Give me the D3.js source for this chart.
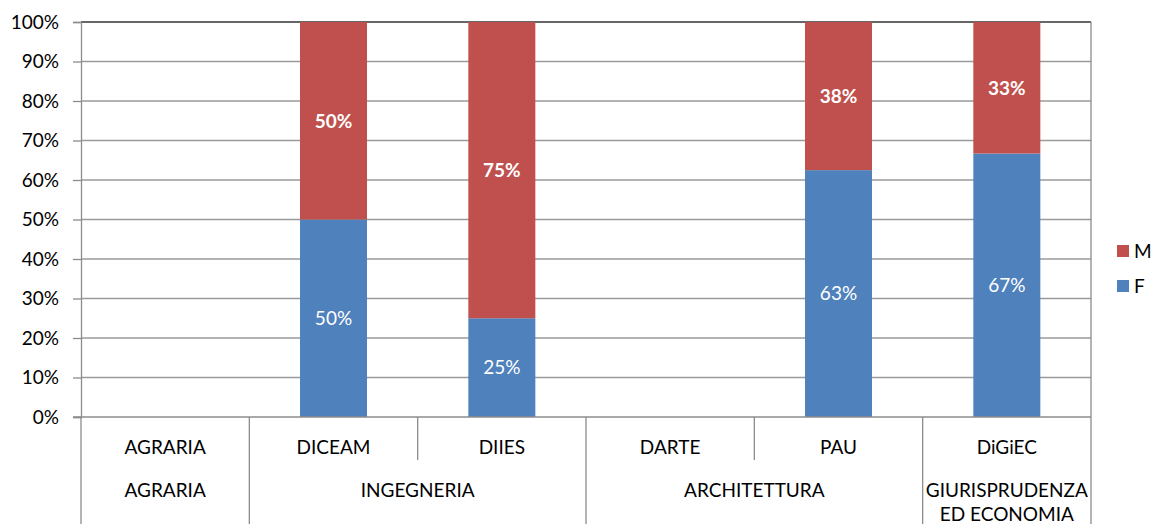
<!DOCTYPE html>
<html><head><meta charset="utf-8">
<script src="https://cdn.jsdelivr.net/npm/d3@7"></script>
<style>body{margin:0;background:#fff;} text{font-family:Lato, "Open Sans", sans-serif;}</style>
</head><body>
<svg id="c" width="1155" height="524"></svg>
<script>
const departments = ["AGRARIA","DICEAM","DIIES","DARTE","PAU","DiGiEC"];
const groups = [
  {name:["AGRARIA"], from:0, to:1},
  {name:["INGEGNERIA"], from:1, to:3},
  {name:["ARCHITETTURA"], from:3, to:5},
  {name:["GIURISPRUDENZA","ED ECONOMIA"], from:5, to:6}
];
const valuesF = [null, 0.50, 0.25, null, 0.625, 0.667];
const valuesM = [null, 0.50, 0.75, null, 0.375, 0.333];
const labelsF = ["", "50%", "25%", "", "63%", "67%"];
const labelsM = ["", "50%", "75%", "", "38%", "33%"];
const yTicks = [0,0.1,0.2,0.3,0.4,0.5,0.6,0.7,0.8,0.9,1.0];
const colorF = "#4F81BD", colorM = "#C0504D";

const svg = d3.select("#c");
const L = 81, R = 1091, T = 22, B = 417;
const FS = 19;
const x = d3.scaleBand().domain(d3.range(departments.length)).range([L,R]).paddingInner(0).paddingOuter(0);
const y = d3.scaleLinear().domain([0,1]).range([B,T]);
const bw = 67;

// gridlines
svg.append("g").selectAll("line").data(yTicks.filter(d=>d>0)).join("line")
  .attr("x1",L).attr("x2",R).attr("y1",d=>y(d)).attr("y2",d=>y(d))
  .attr("stroke",d=>d===1?"#333":"#9a9a9a").attr("stroke-width",1.3);

// y axis
const yAxis = d3.axisLeft(y).tickValues(yTicks).tickFormat(d=>Math.round(d*100)+"%").tickSize(8).tickPadding(14);
const gy = svg.append("g").attr("transform",`translate(${L},0)`).call(yAxis);
gy.select(".domain").attr("stroke","#8c8c8c").attr("stroke-width",1.3);
gy.selectAll(".tick line").attr("stroke","#8c8c8c").attr("stroke-width",1.3);
gy.selectAll(".tick text").attr("font-size",FS).attr("fill","#000").attr("font-family","Lato, sans-serif");

// bars
const idx = d3.range(departments.length).filter(i=>valuesF[i]!=null);
const cx = i => x(i)+x.bandwidth()/2;
svg.append("g").selectAll("rect.f").data(idx).join("rect")
  .attr("x",i=>cx(i)-bw/2).attr("width",bw)
  .attr("y",i=>y(valuesF[i])).attr("height",i=>y(0)-y(valuesF[i])).attr("fill",colorF);
svg.append("g").selectAll("rect.m").data(idx).join("rect")
  .attr("x",i=>cx(i)-bw/2).attr("width",bw)
  .attr("y",i=>y(valuesF[i]+valuesM[i])).attr("height",i=>y(valuesF[i])-y(valuesF[i]+valuesM[i])).attr("fill",colorM);

// labels
svg.append("g").selectAll("text").data(idx).join("text")
  .attr("x",cx).attr("y",i=>y(valuesF[i]/2)).attr("dy","0.36em")
  .attr("text-anchor","middle").attr("fill","#fff").attr("font-size",FS).text(i=>labelsF[i]);
svg.append("g").selectAll("text").data(idx).join("text")
  .attr("x",cx).attr("y",i=>y(valuesF[i]+valuesM[i]/2)).attr("dy","0.36em")
  .attr("text-anchor","middle").attr("fill","#fff").attr("font-size",FS).attr("font-weight","bold").text(i=>labelsM[i]);

// x axis baseline
svg.append("line").attr("x1",L-8).attr("x2",R).attr("y1",B).attr("y2",B).attr("stroke","#8c8c8c").attr("stroke-width",1.3);
// right border of plot
svg.append("line").attr("x1",R).attr("x2",R).attr("y1",T).attr("y2",B).attr("stroke","#8c8c8c").attr("stroke-width",1.3);

// category separators
const groupEdges = new Set();
groups.forEach(g=>{groupEdges.add(g.from);groupEdges.add(g.to);});
const edges = d3.range(departments.length+1);
svg.append("g").selectAll("line").data(edges).join("line")
  .attr("x1",i=>i<departments.length?x(i):R).attr("x2",i=>i<departments.length?x(i):R)
  .attr("y1",B).attr("y2",i=>groupEdges.has(i)?524:460)
  .attr("stroke","#8c8c8c").attr("stroke-width",1.3);

// level-1 labels
svg.append("g").selectAll("text").data(departments).join("text")
  .attr("x",(d,i)=>cx(i)).attr("y",454).attr("text-anchor","middle")
  .attr("font-size",FS).attr("fill","#000").text(d=>d);

// level-2 labels
groups.forEach(g=>{
  const gx = (x(g.from) + (g.to<departments.length?x(g.to):R))/2;
  g.name.forEach((line,k)=>{
    svg.append("text").attr("x",gx).attr("y",497+k*24).attr("text-anchor","middle")
      .attr("font-size",FS).attr("fill","#000").text(line);
  });
});

// legend
const legend = [{n:"M",c:colorM},{n:"F",c:colorF}];
const lg = svg.append("g").selectAll("g").data(legend).join("g")
  .attr("transform",(d,i)=>`translate(1117,${245+i*35})`);
lg.append("rect").attr("width",12).attr("height",12).attr("fill",d=>d.c);
lg.append("text").attr("x",17).attr("y",6).attr("dy","0.36em").attr("font-size",FS).attr("fill","#000").text(d=>d.n);
</script>
</body></html>
